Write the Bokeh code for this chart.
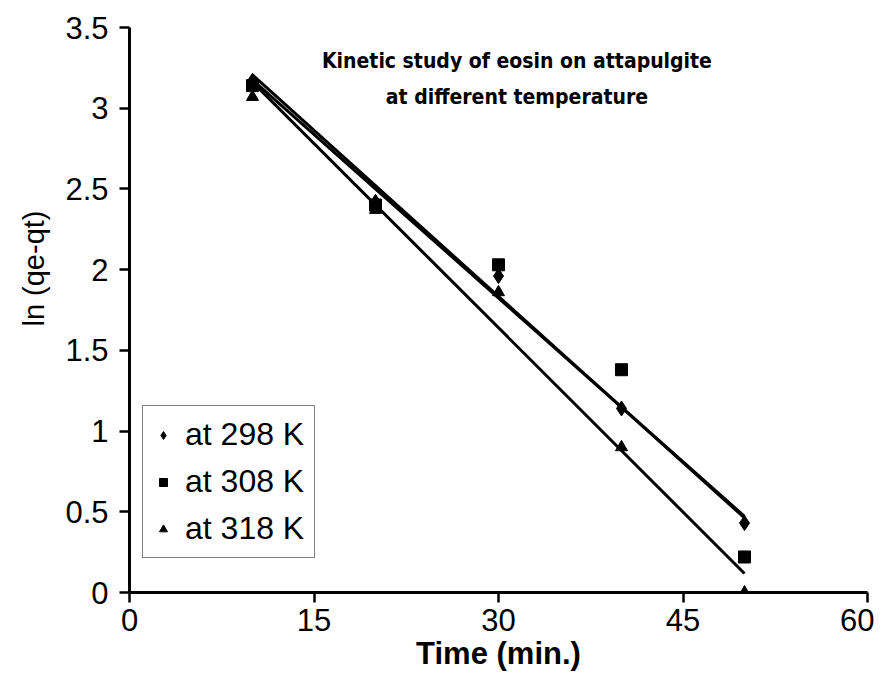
from bokeh.plotting import figure
from bokeh.models import Range1d, FixedTicker, Label, Legend, LegendItem, Title
from bokeh.embed import file_html
from bokeh.resources import INLINE
import numpy as np

# ---- data ----
time_min = [10, 20, 30, 40, 50]
y_298 = [3.17, 2.42, 1.96, 1.14, 0.43]
y_308 = [3.14, 2.40, 2.03, 1.38, 0.22]
y_318 = [3.07, 2.37, 1.86, 0.90, 0.00]
series_labels = ["at 298 K", "at 308 K", "at 318 K"]
x_ticks = [0, 15, 30, 45, 60]
y_ticks = [0, 0.5, 1, 1.5, 2, 2.5, 3, 3.5]
y_tick_labels = ["0", "0.5", "1", "1.5", "2", "2.5", "3", "3.5"]
title_lines = ["Kinetic study of eosin on attapulgite", "at different temperature"]
x_title = "Time (min.)"
y_title = "ln (qe-qt)"

FONT = "Liberation Sans"

p = figure(width=874, height=682,
           x_range=Range1d(0, 60), y_range=Range1d(0, 3.5),
           output_backend="svg", toolbar_location=None,
           min_border_left=129, min_border_right=7,
           min_border_top=27, min_border_bottom=90)
p.outline_line_color = None
p.xgrid.visible = False
p.ygrid.visible = False
p.background_fill_color = "white"
p.border_fill_color = "white"

for ax in (p.xaxis[0], p.yaxis[0]):
    ax.axis_line_width = 3
    ax.axis_line_color = "black"
    ax.major_tick_line_width = 2.5
    ax.major_tick_line_color = "black"
    ax.major_tick_out = 10
    ax.major_tick_in = 0
    ax.minor_tick_line_color = None
    ax.major_label_text_font = FONT
    ax.major_label_text_font_size = "31px"
    ax.major_label_text_color = "black"
    ax.axis_label_text_font = FONT
    ax.axis_label_text_color = "black"

p.xaxis.ticker = FixedTicker(ticks=x_ticks)
p.yaxis.ticker = FixedTicker(ticks=y_ticks)
p.yaxis.major_label_overrides = {t: l for t, l in zip(y_ticks, y_tick_labels)}
p.xaxis.axis_label = x_title
p.xaxis.axis_label_text_font_size = "31px"
p.xaxis.axis_label_text_font_style = "bold"
p.xaxis.major_label_standoff = 6
p.yaxis.major_label_standoff = 11
p.xaxis.axis_label_standoff = 2

# y-axis title as a side title, shifted up like in the reference
p.add_layout(Title(text=y_title, align="right", offset=183, standoff=26,
                   text_font=FONT, text_font_size="29px", text_font_style="normal",
                   text_color="black"), "left")

# regression lines
xs = np.array(time_min, dtype=float)
for ys in (y_298, y_308, y_318):
    k, b = np.polyfit(xs, np.array(ys), 1)
    p.line([xs[0], xs[-1]], [k * xs[0] + b, k * xs[-1] + b], line_color="black", line_width=3)

r1 = p.scatter(time_min, y_298, marker="diamond", size=15, color="black")
r2 = p.scatter(time_min, y_308, marker="square", size=12, color="black")
r3 = p.scatter(time_min, y_318, marker="triangle", size=12, color="black")

legend = Legend(items=[LegendItem(label=series_labels[0], renderers=[r1]),
                       LegendItem(label=series_labels[1], renderers=[r2]),
                       LegendItem(label=series_labels[2], renderers=[r3])],
                location=(13, 34))
legend.label_text_font = FONT
legend.label_text_font_size = "32px"
legend.label_text_color = "black"
legend.border_line_color = "black"
legend.border_line_width = 1.5
legend.background_fill_color = "white"
legend.background_fill_alpha = 1
legend.glyph_width = 20
legend.glyph_height = 36
legend.label_height = 36
legend.label_standoff = 12
legend.spacing = 10
legend.padding = 10
legend.margin = 0
p.add_layout(legend, "center")

for txt, yv in zip(title_lines, [3.29, 3.07]):
    p.add_layout(Label(x=31.5, y=yv, text=txt, text_align="center", text_baseline="middle",
                       text_font="DejaVu Sans Condensed", text_font_style="bold",
                       text_font_size="21px", text_color="black"))

open("out.html", "w").write(file_html(p, INLINE))
